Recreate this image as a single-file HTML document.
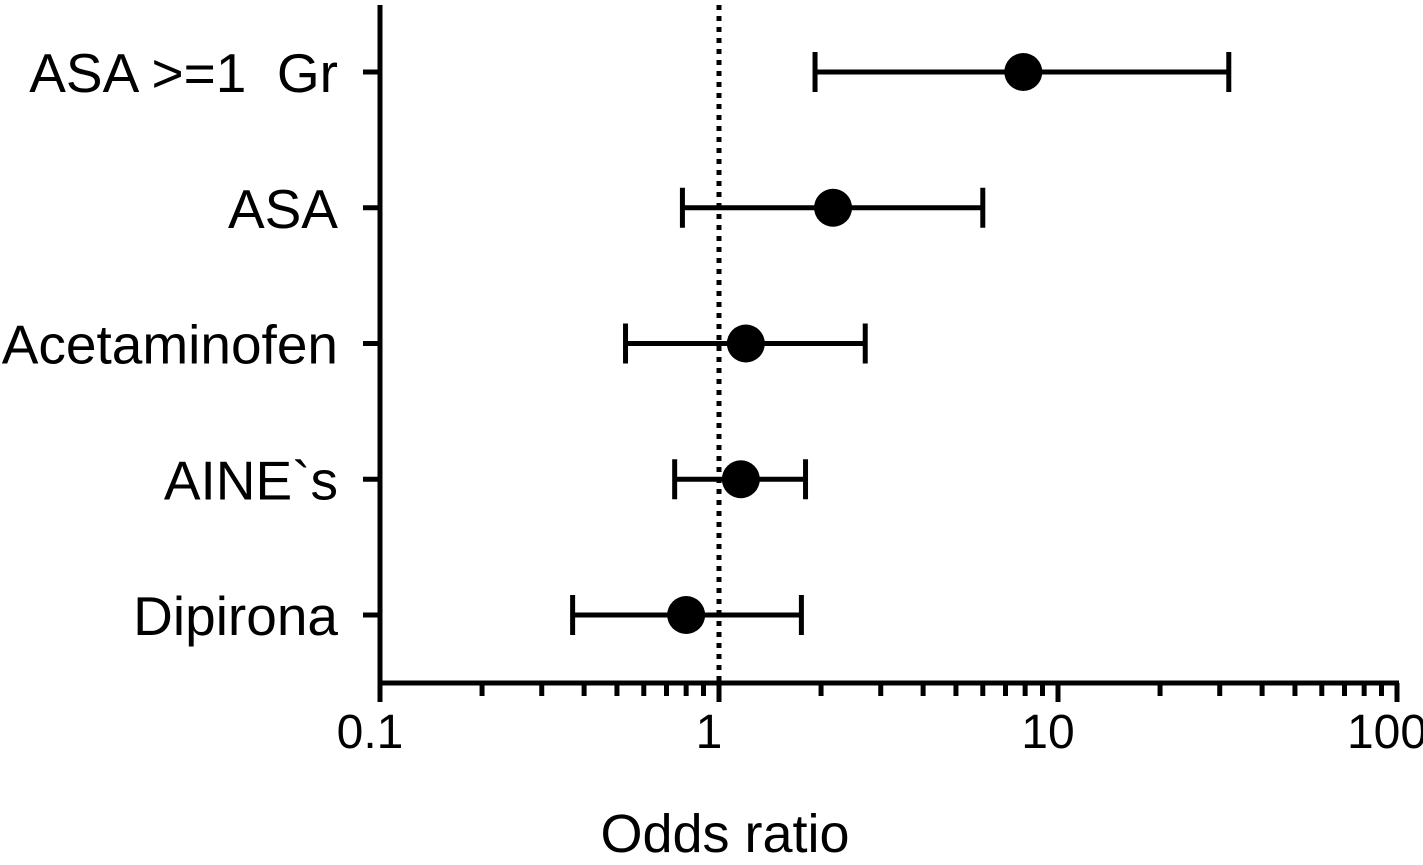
<!DOCTYPE html>
<html><head><meta charset="utf-8"><style>
html,body{margin:0;padding:0;background:#fff;}
svg{display:block;font-family:"Liberation Sans",Arial,sans-serif;}
</style></head><body>
<svg id="chart" width="1423" height="865" viewBox="0 0 1423 865" xmlns="http://www.w3.org/2000/svg"></svg>
<script>
const categories = ["ASA >=1  Gr","ASA","Acetaminofen","AINE`s","Dipirona"];
const oddsRatios = [7.9, 2.17, 1.2, 1.16, 0.8];
const lowerCI = [1.92, 0.78, 0.53, 0.74, 0.37];
const upperCI = [31.9, 6.0, 2.7, 1.8, 1.75];
const majorTicks = [0.1, 1, 10, 100];
const majorTickLabels = ["0.1","1","10","100"];

const NS="http://www.w3.org/2000/svg";
const svg=document.getElementById('chart');
const X0=380, X1=1397, Y0=5, YB=683;
function xs(v){return X0+(Math.log10(v)-Math.log10(0.1))/(3)*(X1-X0);}
function ys(i){return 72+i*135.75;}
function el(tag,attrs,name,inter){const e=document.createElementNS(NS,tag);for(const k in attrs)e.setAttribute(k,attrs[k]);


svg.appendChild(e);return e;}

el('line',{x1:xs(1),x2:xs(1),y1:Y0,y2:YB,stroke:'#000','stroke-width':5,'stroke-dasharray':'5 6'},'reference-line',false);
el('line',{x1:X0,x2:X0,y1:Y0,y2:YB+2,stroke:'#000','stroke-width':5},'y-axis',false);
el('line',{x1:X0-2,x2:X1+2,y1:YB,y2:YB,stroke:'#000','stroke-width':5},'x-axis',false);
for(let d=0;d<3;d++){for(let m=2;m<=9;m++){const v=Math.pow(10,d-1)*m;
 el('line',{x1:xs(v),x2:xs(v),y1:YB,y2:YB+13,stroke:'#000','stroke-width':5},'x-minor-tick',false);}}
majorTicks.forEach((v,i)=>{
 el('line',{x1:xs(v),x2:xs(v),y1:YB,y2:YB+19,stroke:'#000','stroke-width':5},'x-major-tick',false);
 const t=el('text',{x:xs(v)-10,y:748,'font-size':48,'text-anchor':'middle'},'x-tick-label',false);t.textContent=majorTickLabels[i];});
const title=el('text',{x:xs(1)+6,y:852,'font-size':54,'text-anchor':'middle'},'x-axis-title',false);title.textContent='Odds ratio';
categories.forEach((c,i)=>{const y=ys(i);
 el('line',{x1:X0-17,x2:X0,y1:y,y2:y,stroke:'#000','stroke-width':5},'y-tick',false);
 const t=el('text',{x:338,y:y+20,'font-size':55,'text-anchor':'end','xml:space':'preserve'},'y-category-label',false);
 t.style.whiteSpace='pre';
 t.textContent=c;
 el('line',{x1:xs(lowerCI[i]),x2:xs(upperCI[i]),y1:y,y2:y,stroke:'#000','stroke-width':5},'ci-line',false);
 el('line',{x1:xs(lowerCI[i]),x2:xs(lowerCI[i]),y1:y-20,y2:y+20,stroke:'#000','stroke-width':5},'ci-lower-cap',false);
 el('line',{x1:xs(upperCI[i]),x2:xs(upperCI[i]),y1:y-20,y2:y+20,stroke:'#000','stroke-width':5},'ci-upper-cap',false);
 el('circle',{cx:xs(oddsRatios[i]),cy:y,r:19,fill:'#000'},'odds-ratio-point',true);
});
</script>
</body></html>
